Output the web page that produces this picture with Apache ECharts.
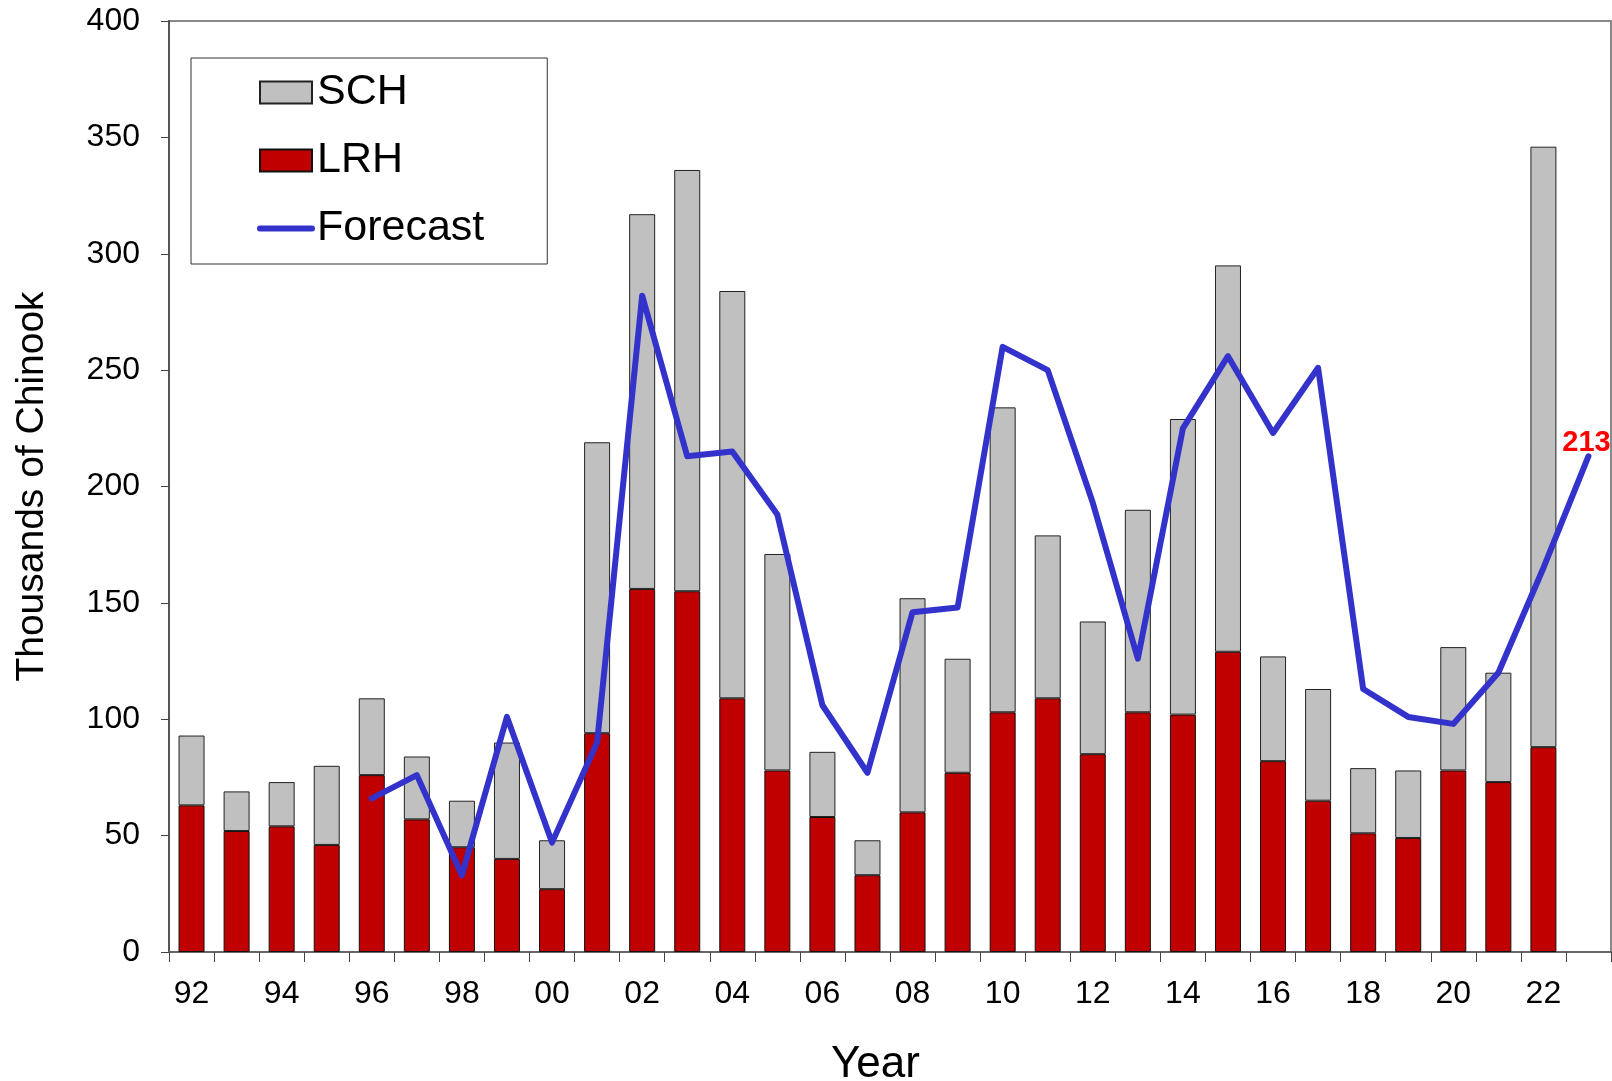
<!DOCTYPE html>
<html>
<head>
<meta charset="utf-8">
<script src="https://cdn.jsdelivr.net/npm/echarts@6/dist/echarts.min.js"></script>
<style>
html,body{margin:0;padding:0;background:#fff;}
#chart{width:1612px;height:1081px;}
</style>
</head>
<body>
<div id="chart"></div>
<script>
const years = ['92','93','94','95','96','97','98','99','00','01','02','03','04','05','06','07','08','09','10','11','12','13','14','15','16','17','18','19','20','21','22','23'];
const lrh = [63,52,54,46,76,57,45,40,27,94,156,155,109,78,58,33,60,77,103,109,85,103,102,129,82,65,51,49,78,73,88,null];
const sch = [30,17,19,34,33,27,20,50,21,125,161,181,175,93,28,15,92,49,131,70,57,87,127,166,45,48,28,29,53,47,258,null];
const forecast = [null,null,null,null,66,76,33,101,47,90,282,213,215,188,106,77,146,148,260,250,193,126,225,256,223,251,113,101,98,120,165,213];
const yTicks = {min:0, max:400, interval:50};

const FONT = 'Liberation Sans, Arial, sans-serif';
const chart = echarts.init(document.getElementById('chart'), null, {renderer:'canvas'});
const lastIdx = forecast.length - 1;
chart.setOption({
  animation:false,
  backgroundColor:'#fff',
  textStyle:{fontFamily:FONT},
  grid:{left:169, right:1, top:21, bottom:129, containLabel:false, outerBoundsMode:'none',
        show:true, borderColor:'#888', borderWidth:2, backgroundColor:'transparent'},
  legend:{
    left:191, top:58, orient:'vertical',
    padding:[13,63,14,66],
    backgroundColor:'#fff', borderColor:'#333', borderWidth:1,
    itemWidth:52, itemHeight:22, itemGap:25,
    textStyle:{fontFamily:FONT, fontSize:43, color:'#000', lineHeight:43},
    data:[
      {name:'SCH', icon:'rect'},
      {name:'LRH', icon:'rect'},
      {name:'Forecast', lineStyle:{width:6, color:'#3333CC', cap:'round'}, itemStyle:{opacity:0}}
    ]
  },
  xAxis:{
    type:'category', data:years, boundaryGap:true,
    name:'Year', nameLocation:'middle', nameGap:91,
    nameTextStyle:{fontFamily:FONT, fontSize:44, color:'#000', padding:[0,29,0,0]},
    axisLine:{lineStyle:{color:'#666', width:2}},
    axisTick:{show:true, interval:0, length:10, lineStyle:{color:'#444', width:1}},
    axisLabel:{interval:1, fontFamily:FONT, fontSize:32, color:'#000', margin:26}
  },
  yAxis:{
    type:'value', min:yTicks.min, max:yTicks.max, interval:yTicks.interval,
    name:'Thousands of Chinook', nameLocation:'middle', nameGap:117, nameRotate:90,
    nameTextStyle:{fontFamily:FONT, fontSize:39, color:'#000'},
    splitLine:{show:false},
    axisLine:{show:true, lineStyle:{color:'#555', width:2}},
    axisTick:{show:true, length:8, lineStyle:{color:'#444', width:1}},
    axisLabel:{fontFamily:FONT, fontSize:32, color:'#000', margin:29}
  },
  series:[
    {name:'LRH', type:'bar', stack:'t', data:lrh, barWidth:26,
     itemStyle:{color:'#C00000', borderColor:'#111', borderWidth:1}},
    {name:'SCH', type:'bar', stack:'t', data:sch, barWidth:26,
     itemStyle:{color:'#C0C0C0', borderColor:'#222', borderWidth:1}},
    {name:'Forecast', type:'line',
     data:forecast.map((v,i)=> i===lastIdx ? {value:v, symbol:'circle', symbolSize:1, label:{show:true}} : v),
     symbol:'none', connectNulls:false,
     lineStyle:{color:'#3333CC', width:6, cap:'round', join:'round'},
     itemStyle:{color:'#3333CC'},
     label:{show:false, position:'top', distance:4, offset:[-2,6], color:'#FF0000', fontWeight:'bold', fontSize:29, fontFamily:FONT,
            formatter:p=>p.value}}
  ]
});
</script>
</body>
</html>
